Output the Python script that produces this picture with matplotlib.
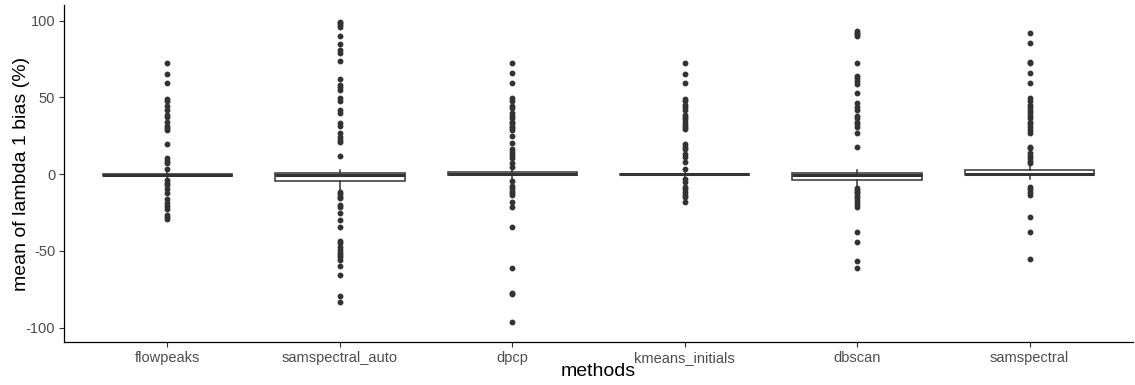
import matplotlib.pyplot as plt

plt.rcParams["font.family"] = ["Liberation Sans", "DejaVu Sans"]

methods = ["flowpeaks", "samspectral_auto", "dpcp", "kmeans_initials", "dbscan", "samspectral"]

# box statistics: q1, median, q3, lower whisker, upper whisker
q1 = [-1.5, -4.4, -0.6, -0.5, -3.9, -0.5]
medians = [-0.5, -0.7, 0.3, -0.2, -0.7, -0.2]
q3 = [0.3, 0.4, 1.5, 0.2, 0.4, 2.6]
whislo = [-3.0, -10.5, -3.5, -2.0, -8.3, -3.0]
whishi = [2.5, 2.6, 3.5, 2.0, 2.8, 5.0]

outliers_flowpeaks = [72.1, 65.4, 59.1, 48.6, 47.8, 44.3, 41.7, 38.4, 37.3, 34.1, 31.3, 29.8, 28.7,
                      19.5, 10.2, 8.5, 7.0, 3.3, -3.9, -5.6, -7.2, -10.0, -12.6, -16.5, -18.7,
                      -20.8, -23.0, -26.7, -28.2, -29.3]
outliers_samspectral_auto = [99.2, 98.2, 97.1, 95.5, 89.9, 84.5, 80.8, 79.0, 73.6, 61.7, 58.0, 56.5,
                             54.7, 49.3, 47.8, 41.7, 40.0, 33.0, 31.3, 26.9, 24.3, 22.1, 20.8, 11.9,
                             -11.5, -13.0, -14.8, -15.9, -20.2, -21.3, -25.6, -30.0, -34.7, -43.4,
                             -45.2, -47.8, -49.5, -51.2, -52.8, -54.3, -56.0, -59.9, -65.8, -79.5,
                             -83.2]
outliers_dpcp = [72.5, 65.6, 59.1, 49.3, 47.8, 44.3, 42.8, 39.5, 37.8, 36.3, 34.1, 33.0, 31.3, 29.8,
                 28.7, 25.0, 20.4, 16.1, 14.5, 12.4, 10.2, 7.4, 4.8, -4.6, -7.8, -9.3, -10.9, -12.6,
                 -13.7, -18.5, -21.7, -34.3, -61.0, -77.3, -78.2, -96.2]
outliers_kmeans_initials = [72.1, 65.4, 59.1, 48.6, 47.8, 45.0, 43.4, 41.7, 38.4, 37.3, 35.6, 34.1,
                            31.9, 30.4, 29.1, 19.5, 17.8, 16.1, 13.0, 10.9, 8.0, 3.3, -3.5, -5.0,
                            -8.3, -10.0, -11.5, -13.7, -15.2, -18.0]
outliers_dbscan = [93.4, 92.1, 91.2, 89.9, 72.5, 63.8, 62.3, 60.8, 58.6, 52.6, 46.5, 43.4, 41.7, 37.8,
                   36.3, 34.1, 32.6, 30.8, 26.9, 17.8, -9.3, -10.4, -11.5, -12.6, -14.3, -15.9,
                   -17.4, -19.5, -21.3, -37.6, -44.1, -56.5, -61.0]
outliers_samspectral = [91.7, 85.5, 73.2, 72.1, 65.6, 59.1, 49.3, 47.8, 45.0, 43.4, 41.7, 39.5, 37.8,
                        36.3, 34.1, 32.6, 30.8, 28.7, 26.9, 17.8, 16.7, 13.5, 11.7, 10.2, 8.7, 7.0,
                        -8.3, -10.0, -11.5, -13.7, -28.2, -37.6, -55.4]
outliers = [outliers_flowpeaks, outliers_samspectral_auto, outliers_dpcp,
            outliers_kmeans_initials, outliers_dbscan, outliers_samspectral]

y_ticks = [-100, -50, 0, 50, 100]

stats = []
for i, name in enumerate(methods):
    stats.append({"label": name, "q1": q1[i], "med": medians[i], "q3": q3[i],
                  "whislo": whislo[i], "whishi": whishi[i], "fliers": outliers[i]})

fig = plt.figure(figsize=(11.35, 3.85), dpi=100)
ax = fig.add_axes([64 / 1135, 43 / 385, 1069 / 1135, 337 / 385])

line_col = "#333333"
ax.bxp(stats, positions=range(1, len(methods) + 1), widths=0.75, showcaps=False, patch_artist=True,
       boxprops=dict(facecolor="white", edgecolor=line_col, linewidth=1.1),
       medianprops=dict(color=line_col, linewidth=2.2),
       whiskerprops=dict(color=line_col, linewidth=1.1),
       flierprops=dict(marker="o", markersize=3.2, markerfacecolor=line_col,
                       markeredgecolor=line_col, linestyle="none"))

ax.set_xlim(0.4, len(methods) + 0.6)
ax.set_ylim(-109.4, 110.1)
ax.set_yticks(y_ticks)
ax.set_yticklabels([str(v) for v in y_ticks])
ax.set_xticks(range(1, len(methods) + 1))
ax.set_xticklabels(methods)

for side in ["top", "right"]:
    ax.spines[side].set_visible(False)
for side in ["left", "bottom"]:
    ax.spines[side].set_color("black")
    ax.spines[side].set_linewidth(0.9)
ax.tick_params(axis="both", length=3.8, width=0.8, color="#333333", labelcolor="#4D4D4D",
               labelsize=10.5, pad=2.5)

ax.set_xlabel("methods", fontsize=14, color="black", va="center")
ax.xaxis.set_label_coords(0.5, -0.089)
ax.set_ylabel("mean of lambda 1 bias (%)", fontsize=14, color="black", va="center", ha="center")
ax.yaxis.set_label_coords(-0.0402, 0.5)

fig.savefig("out.png", dpi=100)
